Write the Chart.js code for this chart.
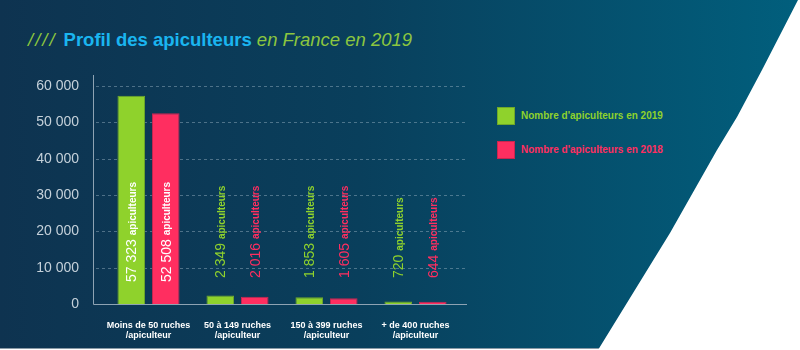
<!DOCTYPE html>
<html>
<head>
    <meta charset="utf-8"/>
    <title>Profil des apiculteurs</title>
    <script src="https://cdn.jsdelivr.net/npm/chart.js"></script>
    <style>
        html, body {
            margin: 0;
            padding: 0;
            background: #ffffff;
        }
        #wrap {
            position: relative;
            width: 800px;
            height: 350px;
            overflow: hidden;
            font-family: "Liberation Sans", Arial, sans-serif;
        }
        #fond {
            position: absolute;
            left: 0; top: 0;
            width: 800px; height: 348px;
            border-bottom: 1px solid #8a9aa6;
            background: linear-gradient(to right, #0e3350 0%, #093f5c 45%, #015f7d 100%);
            clip-path: polygon(0 0, 798px 0, 762px 70px, 737px 117px, 717px 150px, 670px 233px, 598px 350px, 0 350px);
        }
        #titre {
            position: absolute;
            left: 28px;
            top: 31px;
            font-size: 18.5px;
            line-height: 18px;
            white-space: nowrap;
        }
        #titre .barres { color: #8cc63f; font-style: italic; letter-spacing: 2px; margin-right: 7px; }
        #titre .fort { color: #1ab5f0; font-weight: bold; }
        #titre .fin { color: #8cc63f; font-style: italic; }
        #legende {
            position: absolute;
            left: 497px;
            top: 107px;
        }
        .item {
            height: 18px;
            margin-bottom: 16px;
            font-size: 10px;
            font-weight: bold;
            line-height: 18px;
            white-space: nowrap;
        }
        .item span.carre {
            display: inline-block;
            width: 16px; height: 16px;
            vertical-align: top;
            margin-right: 6px;
        }
        #chart-container {
            position: absolute;
            left: 0; top: 0;
            width: 800px; height: 350px;
        }
    </style>
</head>
<body>
    <div id="wrap">
        <div id="fond"></div>
        <div id="titre"><span class="barres">////</span><span class="fort">Profil des apiculteurs</span><span class="fin"> en France en 2019</span></div>
        <div id="legende"></div>
        <div id="chart-container">
            <canvas id="apiChart"></canvas>
        </div>
    </div>

    <script>
        // Données
        const categories = [
            ['Moins de 50 ruches', '/apiculteur'],
            ['50 à 149 ruches', '/apiculteur'],
            ['150 à 399 ruches', '/apiculteur'],
            ['+ de 400 ruches', '/apiculteur']
        ];
        const apiculteurs2019 = [57323, 2349, 1853, 720];
        const apiculteurs2018 = [52508, 2016, 1605, 644];
        const yTicks = [0, 10000, 20000, 30000, 40000, 50000, 60000];

        const vert = '#8fd22c';
        const rose = '#ff2e60';

        // 57323 -> "57 323"
        function fmt(v) {
            return String(v).replace(/\B(?=(\d{3})+(?!\d))/g, ' ');
        }

        // Légende
        const series = [
            { label: "Nombre d'apiculteurs en 2019", color: vert, border: '#6fa82a' },
            { label: "Nombre d'apiculteurs en 2018", color: rose, border: '#c92650' }
        ];
        const leg = document.getElementById('legende');
        series.forEach(s => {
            const d = document.createElement('div');
            d.className = 'item';
            d.style.color = s.color;
            d.innerHTML = '<span class="carre" style="background:' + s.color + ';border:1px solid ' + s.border + '"></span>' + s.label;
            leg.appendChild(d);
        });

        // Grille pointillée et axes, un peu plus larges que la zone du graphe
        const axesPlugin = {
            id: 'axes',
            beforeDatasetsDraw(chart) {
                const { ctx, chartArea, scales } = chart;
                const left = chartArea.left - 11;
                const right = chartArea.right + 7;
                ctx.save();
                ctx.strokeStyle = 'rgba(160, 185, 200, 0.45)';
                ctx.lineWidth = 1;
                ctx.setLineDash([3, 3]);
                scales.y.ticks.forEach(t => {
                    if (t.value === 0) return;
                    const y = Math.round(scales.y.getPixelForValue(t.value)) + 0.5;
                    ctx.beginPath();
                    ctx.moveTo(left + 3, y);
                    ctx.lineTo(right, y);
                    ctx.stroke();
                });
                ctx.setLineDash([]);
                ctx.strokeStyle = '#8ea3b3';
                const y0 = Math.round(scales.y.getPixelForValue(0)) + 0.5;
                ctx.beginPath();
                ctx.moveTo(left + 0.5, chartArea.top - 11);
                ctx.lineTo(left + 0.5, y0);
                ctx.lineTo(right, y0);
                ctx.stroke();
                ctx.restore();
            }
        };

        // Étiquettes verticales "57 323 apiculteurs"
        const etiquettesPlugin = {
            id: 'etiquettes',
            afterDatasetsDraw(chart) {
                const { ctx, scales } = chart;
                const y0 = scales.y.getPixelForValue(0);
                chart.data.datasets.forEach((ds, i) => {
                    chart.getDatasetMeta(i).data.forEach((bar, j) => {
                        const v = ds.data[j];
                        const num = fmt(v);
                        const inside = (y0 - bar.y) > 120;
                        ctx.save();
                        ctx.translate(bar.x + 1, y0 - (inside ? 22 : 26));
                        ctx.rotate(-Math.PI / 2);
                        ctx.fillStyle = inside ? '#ffffff' : ds.backgroundColor;
                        ctx.textBaseline = 'middle';
                        ctx.textAlign = 'left';
                        ctx.font = '14px "Liberation Sans", Arial, sans-serif';
                        ctx.fillText(num, 0, 0);
                        const w = ctx.measureText(num + ' ').width;
                        ctx.font = 'bold 10px "Liberation Sans", Arial, sans-serif';
                        ctx.fillText('apiculteurs', w, 1);
                        ctx.restore();
                    });
                });
            }
        };

        function setupChart() {
            const ctx = document.getElementById('apiChart').getContext('2d');
            new Chart(ctx, {
                type: 'bar',
                data: {
                    labels: categories,
                    datasets: [{
                        label: series[0].label,
                        data: apiculteurs2019,
                        backgroundColor: vert,
                        borderColor: series[0].border,
                        borderWidth: 1,
                        categoryPercentage: 0.775,
                        barPercentage: 0.8
                    }, {
                        label: series[1].label,
                        data: apiculteurs2018,
                        backgroundColor: rose,
                        borderColor: series[1].border,
                        borderWidth: 1,
                        categoryPercentage: 0.775,
                        barPercentage: 0.8
                    }]
                },
                options: {
                    responsive: true,
                    maintainAspectRatio: false,
                    animation: false,
                    layout: {
                        padding: { left: 0, top: 86, right: 340, bottom: 0 }
                    },
                    plugins: {
                        legend: { display: false },
                        tooltip: { enabled: false }
                    },
                    scales: {
                        x: {
                            grid: { display: false },
                            border: { display: false },
                            ticks: {
                                color: '#ffffff',
                                padding: 8,
                                maxRotation: 0,
                                font: { family: '"Liberation Sans", Arial, sans-serif', size: 9, weight: 'bold', lineHeight: 1.15 }
                            },
                            afterFit(s) { s.height = 46; }
                        },
                        y: {
                            min: 0,
                            max: 60000,
                            afterBuildTicks(s) { s.ticks = yTicks.map(v => ({ value: v })); },
                            grid: { display: false },
                            border: { display: false },
                            ticks: {
                                color: '#c5d1da',
                                padding: 17,
                                font: { family: '"Liberation Sans", Arial, sans-serif', size: 14 },
                                callback: v => fmt(v)
                            },
                            afterFit(s) { s.width = 104; }
                        }
                    }
                },
                plugins: [axesPlugin, etiquettesPlugin]
            });
        }

        document.addEventListener('DOMContentLoaded', setupChart);
    </script>
</body>
</html>
